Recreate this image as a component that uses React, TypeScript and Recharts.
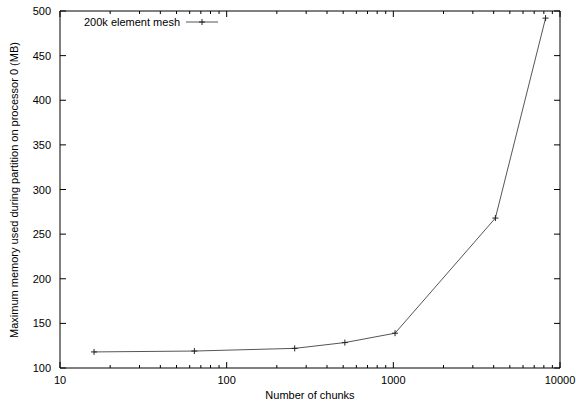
import { LineChart, Line, XAxis, YAxis } from 'recharts'

const chunks = [16, 64, 256, 512, 1024, 4096, 8192]
const memoryMB = [118, 119, 122, 128.5, 139, 268, 492]
const seriesName = '200k element mesh'

const xMajor = [10, 100, 1000, 10000]
const xMinor = [20, 30, 40, 50, 60, 70, 80, 90, 200, 300, 400, 500, 600, 700, 800, 900, 2000, 3000, 4000, 5000, 6000, 7000, 8000, 9000]
const xTicks = [...xMajor, ...xMinor].sort((a, b) => a - b)
const yTicks = [100, 150, 200, 250, 300, 350, 400, 450, 500]

const data = chunks.map((c, i) => ({ chunks: c, mem: memoryMB[i] }))

const FONT = '"Liberation Sans", Arial, sans-serif'
const INK = '#000'

const BottomTick = (props: any) => {
  const { x, y, payload } = props
  const major = xMajor.includes(payload.value)
  return (
    <g>
      <line x1={x} y1={y} x2={x} y2={y - (major ? 6 : 3)} stroke={INK} strokeWidth={1} />
      {major && (
        <text x={x} y={y + 16} textAnchor="middle" fontSize={11} fontFamily={FONT} fill={INK}>
          {payload.value}
        </text>
      )}
    </g>
  )
}

const TopTick = (props: any) => {
  const { x, y, payload } = props
  const major = xMajor.includes(payload.value)
  return <line x1={x} y1={y} x2={x} y2={y + (major ? 6 : 3)} stroke={INK} strokeWidth={1} />
}

const LeftTick = (props: any) => {
  const { x, y, payload } = props
  return (
    <g>
      <line x1={x} y1={y} x2={x + 6} y2={y} stroke={INK} strokeWidth={1} />
      <text x={x - 9} y={y + 4} textAnchor="end" fontSize={11} fontFamily={FONT} fill={INK}>
        {payload.value}
      </text>
    </g>
  )
}

const RightTick = (props: any) => {
  const { x, y } = props
  return <line x1={x} y1={y} x2={x - 6} y2={y} stroke={INK} strokeWidth={1} />
}

const PlusDot = (props: any) => {
  const { cx, cy } = props
  if (cx == null || cy == null) return null
  return (
    <g>
      <line x1={cx - 3} y1={cy} x2={cx + 3} y2={cy} stroke="#222" strokeWidth={1} />
      <line x1={cx} y1={cy - 3} x2={cx} y2={cy + 3} stroke="#222" strokeWidth={1} />
    </g>
  )
}

export default function App() {
  return (
    <div style={{ position: 'absolute', left: 0, top: 0, width: 576, height: 403, background: '#fff' }}>
      <LineChart width={576} height={403} data={data} margin={{ top: 10, right: 15, bottom: 34, left: 59 }}>
        <XAxis
          xAxisId="bottom"
          dataKey="chunks"
          type="number"
          scale="log"
          domain={[10, 10000]}
          ticks={xTicks}
          interval={0}
          height={1}
          tickSize={0}
          tickMargin={0}
          tick={<BottomTick />}
          axisLine={{ stroke: INK }}
          allowDataOverflow
        />
        <XAxis
          xAxisId="top"
          orientation="top"
          dataKey="chunks"
          type="number"
          scale="log"
          domain={[10, 10000]}
          ticks={xTicks}
          interval={0}
          height={1}
          tickSize={0}
          tickMargin={0}
          tick={<TopTick />}
          axisLine={{ stroke: INK }}
          allowDataOverflow
        />
        <YAxis
          yAxisId="left"
          type="number"
          domain={[100, 500]}
          ticks={yTicks}
          interval={0}
          width={1}
          tickSize={0}
          tickMargin={0}
          tick={<LeftTick />}
          axisLine={{ stroke: INK }}
          allowDataOverflow
        />
        <YAxis
          yAxisId="right"
          orientation="right"
          type="number"
          domain={[100, 500]}
          ticks={yTicks}
          interval={0}
          width={1}
          tickSize={0}
          tickMargin={0}
          tick={<RightTick />}
          axisLine={{ stroke: INK }}
          allowDataOverflow
        />
        <Line
          xAxisId="top"
          yAxisId="right"
          dataKey="mem"
          stroke="none"
          dot={false}
          activeDot={false}
          legendType="none"
          isAnimationActive={false}
        />
        <Line
          xAxisId="bottom"
          yAxisId="left"
          dataKey="mem"
          name={seriesName}
          type="linear"
          stroke="#555"
          strokeWidth={1}
          dot={<PlusDot />}
          activeDot={false}
          isAnimationActive={false}
        />
      </LineChart>
      <svg width={576} height={403} style={{ position: 'absolute', left: 0, top: 0, pointerEvents: 'none' }}>
        <text x={180} y={26} textAnchor="end" fontSize={11} fontFamily={FONT} fill={INK}>
          {seriesName}
        </text>
        <line x1={186} y1={22} x2={218} y2={22} stroke="#555" strokeWidth={1} />
        <line x1={199} y1={22} x2={205} y2={22} stroke="#222" strokeWidth={1} />
        <line x1={202} y1={19} x2={202} y2={25} stroke="#222" strokeWidth={1} />
        <text x={310} y={399} textAnchor="middle" fontSize={11} fontFamily={FONT} fill={INK}>
          Number of chunks
        </text>
        <text
          x={18}
          y={190}
          transform="rotate(-90 18 190)"
          textAnchor="middle"
          fontSize={11}
          fontFamily={FONT}
          fill={INK}
        >
          Maximum memory used during partition on processor 0 (MB)
        </text>
      </svg>
    </div>
  )
}
